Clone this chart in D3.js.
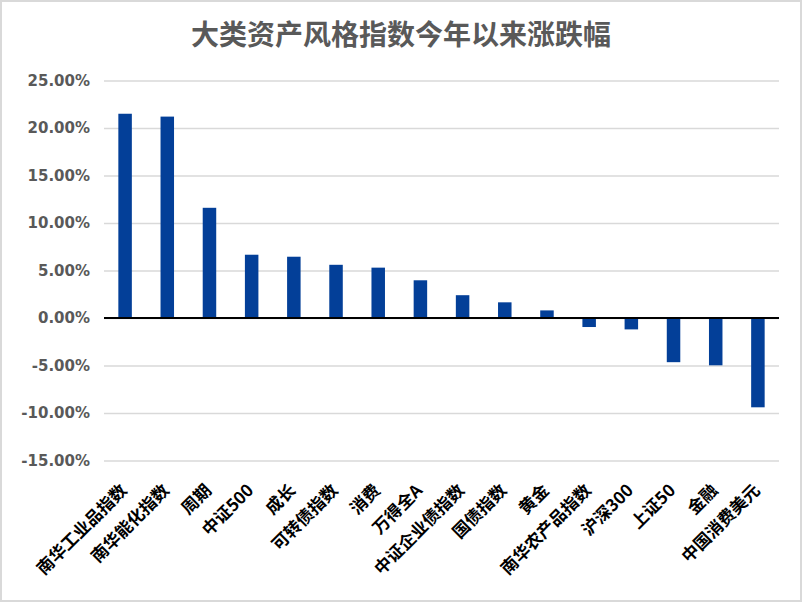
<!DOCTYPE html>
<html>
<head>
<meta charset="utf-8">
<script src="https://cdn.jsdelivr.net/npm/d3@7"></script>
<style>
  body { margin: 0; background: #fff; }
  #chart { width: 802px; height: 602px; }
</style>
</head>
<body>
<div id="chart"></div>
<script>
const chartTitle = "大类资产风格指数今年以来涨跌幅";
const categories = ["南华工业品指数", "南华能化指数", "周期", "中证500", "成长", "可转债指数", "消费", "万得全A",
  "中证企业债指数", "国债指数", "黄金", "南华农产品指数", "沪深300", "上证50", "金融", "中国消费美元"];
const values = [21.5, 21.2, 11.6, 6.66, 6.45, 5.6, 5.3, 3.97, 2.4, 1.65, 0.8, -0.95, -1.2, -4.65, -4.98, -9.4];
const yTicks = [25, 20, 15, 10, 5, 0, -5, -10, -15];

const data = categories.map((c, i) => ({ name: c, value: values[i] }));

const W = 802, H = 602;
const margin = { top: 80.5, right: 23, bottom: 141.5, left: 104 };
const chartWidth = W - margin.left - margin.right,
  chartHeight = H - margin.top - margin.bottom;

const svg = d3.select("#chart")
  .append("svg")
  .attr("width", W)
  .attr("height", H);

// border of the chart area
svg.append("rect")
  .attr("x", 1).attr("y", 1)
  .attr("width", W - 2).attr("height", H - 2)
  .attr("fill", "#fff")
  .attr("stroke", "#d9d9d9")
  .attr("stroke-width", 2);

svg.append("text")
  .attr("x", 401)
  .attr("y", 45)
  .attr("text-anchor", "middle")
  .attr("font-family", "'Noto Sans CJK SC', sans-serif")
  .attr("font-weight", "bold")
  .attr("font-size", 28)
  .attr("fill", "#595959")
  .text(chartTitle);

const g = svg.append("g")
  .attr("transform", `translate(${margin.left}, ${margin.top})`);

const x = d3.scaleBand()
  .domain(categories)
  .range([0, chartWidth])
  .paddingInner(0.68)
  .paddingOuter(0.34);

const y = d3.scaleLinear()
  .domain([-15, 25])
  .range([chartHeight, 0]);

// grid lines + y labels
const yAxis = g.append("g")
  .call(d3.axisLeft(y).tickValues(yTicks).tickSize(-chartWidth).tickPadding(14)
    .tickFormat(d => d.toFixed(2) + "%"));
yAxis.select(".domain").remove();
yAxis.selectAll(".tick line")
  .attr("stroke", "#d9d9d9")
  .attr("stroke-width", 1.5);
yAxis.selectAll(".tick text")
  .attr("font-family", "'DejaVu Sans', sans-serif")
  .attr("font-weight", "bold")
  .attr("font-size", 15)
  .attr("fill", "#595959");

// bars
g.selectAll("rect.bar")
  .data(data)
  .join("rect")
  .attr("class", "bar")
  .attr("x", d => x(d.name))
  .attr("y", d => y(Math.max(0, d.value)))
  .attr("width", x.bandwidth())
  .attr("height", d => Math.abs(y(d.value) - y(0)))
  .attr("fill", "#033f98");

// zero line
g.append("line")
  .attr("x1", 0).attr("x2", chartWidth)
  .attr("y1", y(0)).attr("y2", y(0))
  .attr("stroke", "#000")
  .attr("stroke-width", 2);

// category labels, rotated
g.append("g")
  .selectAll("text")
  .data(categories)
  .join("text")
  .attr("transform", d => `translate(${x(d) + x.bandwidth() / 2 + 3}, ${chartHeight + 31}) rotate(-45)`)
  .attr("text-anchor", "end")
  .attr("font-family", "'Noto Sans CJK SC', sans-serif")
  .attr("font-weight", "bold")
  .attr("font-size", 17)
  .attr("fill", "#000")
  .text(d => d);
</script>
</body>
</html>
